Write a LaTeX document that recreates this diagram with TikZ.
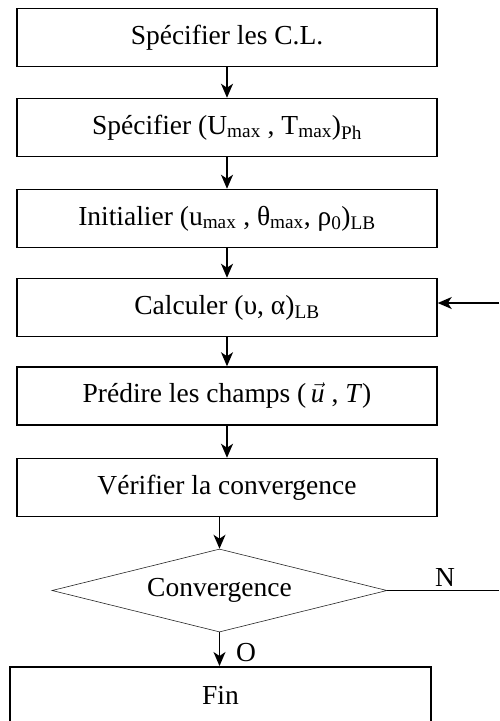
\documentclass[tikz,border=0pt]{standalone}
\usepackage{fontspec}
\setmainfont{Liberation Serif}
\usetikzlibrary{arrows.meta,shapes.geometric}

% lowered, reduced text used for indices such as max, Ph, LB
\newcommand\idx[1]{\textsubscript{#1}}

\begin{document}
\begin{tikzpicture}[x=1pt,y=-1pt,
  txt/.style={font=\fontsize{27.5}{32}\selectfont},
  stepbox/.style={txt,draw,line width=1.5pt,minimum width=420pt,
    minimum height=58pt,inner sep=0pt},
  testbox/.style={txt,draw=black!85,line width=0.6pt,shape=diamond,aspect=4,
    minimum width=335pt,minimum height=83pt,inner sep=0pt},
  flow/.style={-{Stealth[length=14pt,width=12pt,inset=4pt]},line width=1.4pt},
  plain/.style={line width=1.4pt},
  tag/.style={txt,inner sep=0pt}]
\useasboundingbox (0,0) rectangle (499,721);
\clip (0,0) rectangle (499,721);

\node[stepbox] (b1) at (227,37.5)  {Spécifier les C.L.};
\node[stepbox] (b2) at (227,127.5) {Spécifier (U\idx{max} , T\idx{max})\idx{Ph}};
\node[stepbox] (b3) at (227,218.5) {Initialier (u\idx{max} , θ\idx{max}, ρ\idx{0})\idx{LB}};
\node[stepbox] (b4) at (227,307.5) {Calculer (υ, α)\idx{LB}};
\node[stepbox] (b5) at (227,396)   {Prédire les champs (\,$\vec{\textit{u}}$ , \textit{T})};
\node[stepbox] (b6) at (227,487.5) {Vérifier la convergence};
\node[testbox] (d)  at (219.5,590.5) {Convergence};
\node[stepbox,minimum width=421pt,minimum height=62pt,anchor=north]
  (fin) at (220.5,666) {\raisebox{4pt}{Fin}};

\draw[flow] (b1) -- (b2);
\draw[flow] (b2) -- (b3);
\draw[flow] (b3) -- (b4);
\draw[flow] (b4) -- (b5);
\draw[flow] (b5) -- (b6);
\draw[flow] (b6.south -| d.north) -- (d.north);
\draw[flow] (d.south) -- (fin.north -| d.south);

% loop back when not converged
\coordinate (nend) at (499,590.5);
\coordinate (back) at (499,303);
\draw[plain] (d.east) -- (nend);
\draw[flow] (back) -- (b4.east |- back);

\node[tag] (lo) at (246,653) {O};
\node[tag] (ln) at (445,577) {N};
\end{tikzpicture}
\end{document}
